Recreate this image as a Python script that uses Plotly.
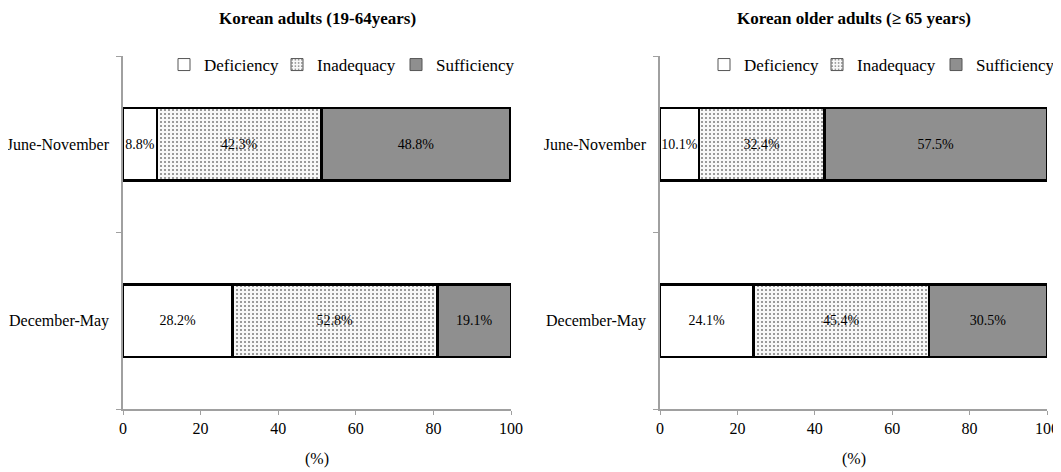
import plotly.graph_objects as go

categories = ["June-November", "December-May"]
series_names = ["Deficiency", "Inadequacy", "Sufficiency"]

adults_deficiency = [8.8, 28.2]
adults_inadequacy = [42.3, 52.8]
adults_sufficiency = [48.8, 19.1]

older_deficiency = [10.1, 24.1]
older_inadequacy = [32.4, 45.4]
older_sufficiency = [57.5, 30.5]

x_ticks = [0, 20, 40, 60, 80, 100]

panel_titles = ["Korean adults (19-64years)", "Korean older adults (\u2265 65 years)"]
x_title = "(%)"

FONT = "Liberation Serif"
OFF = 8  # page body margin of the browser
W, H = 1061 - OFF, 472 - OFF

fills = {
    "Deficiency": dict(color="white"),
    "Inadequacy": dict(color="#f8f8f8",
                       pattern=dict(shape=".", fgcolor="#7a7a7a", bgcolor="#f8f8f8",
                                    size=4, solidity=0.2, fillmode="replace")),
    "Sufficiency": dict(color="#8f8f8f"),
}

fig = go.Figure()

panels = [
    ("x", "y", [adults_deficiency, adults_inadequacy, adults_sufficiency]),
    ("x2", "y2", [older_deficiency, older_inadequacy, older_sufficiency]),
]

for xa, ya, vals in panels:
    for name, v in zip(series_names, vals):
        mk = dict(fills[name])
        mk["line"] = dict(color="black", width=2.5)
        fig.add_trace(go.Bar(
            x=v, y=categories, orientation="h", name=name,
            marker=mk, xaxis=xa, yaxis=ya, showlegend=False,
            text=[f"{t:.1f}%" for t in v], textposition="inside", textangle=0,
            insidetextanchor="middle", constraintext="none",
            textfont=dict(family=FONT, size=14, color="black"),
            hoverinfo="skip",
        ))

def px_x(p):
    return (p - OFF) / W

def px_y(p):
    return 1 - (p - OFF) / H

# one legend per entry so every entry sits where the reference shows it
legend_left_px = [[164, 277, 396], [704, 817, 936]]
legend_layout = {}
k = 0
for (xa, ya, _), lefts in zip(panels, legend_left_px):
    for name, lx in zip(series_names, lefts):
        k += 1
        lid = "legend" if k == 1 else f"legend{k}"
        mk = dict(fills[name])
        mk["line"] = dict(color="#555555", width=1)
        fig.add_trace(go.Bar(
            x=[None], y=[None], orientation="h", name=name, marker=mk,
            xaxis=xa, yaxis=ya, legend=lid, showlegend=True, hoverinfo="skip",
        ))
        legend_layout[lid] = dict(
            x=px_x(lx), y=px_y(65), xanchor="left", yanchor="middle",
            orientation="h", font=dict(family=FONT, size=17, color="black"),
            bgcolor="rgba(0,0,0,0)", itemclick=False, itemdoubleclick=False,
            itemwidth=30,
        )

ydom = [px_y(409), px_y(56)]
axis_common_x = dict(range=[0, 100], tickvals=x_ticks, showline=True, linecolor="#a0a0a0",
                     linewidth=1.5, ticks="outside", ticklen=4, tickcolor="#a0a0a0",
                     showgrid=False, zeroline=False, automargin=False,
                     tickfont=dict(family=FONT, size=16, color="black"), fixedrange=True)
axis_common_y = dict(type="category", categoryorder="array",
                     categoryarray=categories[::-1], showline=True, linecolor="#a0a0a0",
                     linewidth=1.5, ticks="outside", ticklen=5, tickcolor="#a0a0a0",
                     tickson="boundaries", ticklabelstandoff=9,
                     showgrid=False, zeroline=False, automargin=False,
                     tickfont=dict(family=FONT, size=16, color="black"), fixedrange=True)

fig.update_layout(
    width=W, height=H,
    margin=dict(l=0, r=0, t=0, b=0, autoexpand=False),
    paper_bgcolor="white", plot_bgcolor="white",
    barmode="stack", bargap=0.59,
    font=dict(family=FONT, color="black"),
    xaxis=dict(domain=[px_x(123), px_x(511)], anchor="y", **axis_common_x),
    yaxis=dict(domain=ydom, anchor="x", **axis_common_y),
    xaxis2=dict(domain=[px_x(660), px_x(1047)], anchor="y2", **axis_common_x),
    yaxis2=dict(domain=ydom, anchor="x2", **axis_common_y),
    **legend_layout,
)

centers = [(123 + 511) / 2, (660 + 1047) / 2]
for c, t in zip(centers, panel_titles):
    fig.add_annotation(text=f"<b>{t}</b>", x=px_x(c), y=px_y(19), xref="paper", yref="paper",
                       showarrow=False, xanchor="center", yanchor="middle",
                       font=dict(family=FONT, size=17, color="black"))
    fig.add_annotation(text=x_title, x=px_x(c), y=px_y(459), xref="paper", yref="paper",
                       showarrow=False, xanchor="center", yanchor="middle",
                       font=dict(family=FONT, size=16, color="black"))

fig.write_html("out.html")
